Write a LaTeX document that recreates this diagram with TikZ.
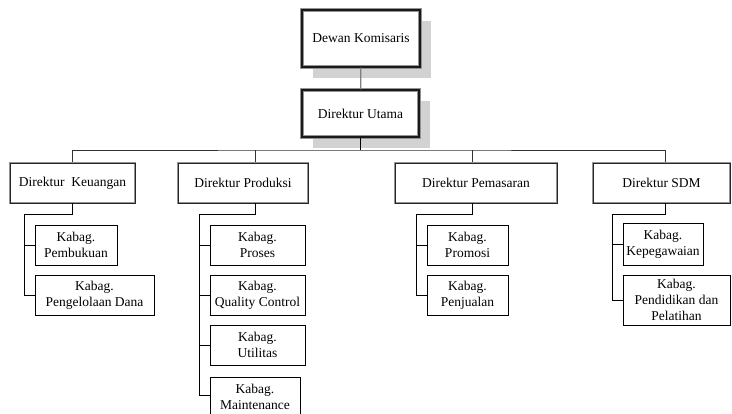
\documentclass[tikz,border=0pt]{standalone}
\usepackage{fontspec}
\setmainfont{Liberation Serif}
\usetikzlibrary{shadows}

\begin{document}
\begin{tikzpicture}[x=1pt,y=-1pt,
  every node/.style={font=\fontsize{13.5}{16}\selectfont, align=center, inner sep=0pt},
  topbox/.style={draw=gray!85, double=black!90, double distance=1.1pt, line width=1.1pt, fill=white,
    drop shadow={shadow xshift=11pt, shadow yshift=-11pt, fill=gray!35, opacity=1}},
  dirbox/.style={draw=gray!85, double=black!85, double distance=0.9pt, line width=1pt, fill=white, minimum height=40pt},
  unitbox/.style={draw, line width=0.8pt, fill=white, minimum height=40pt},
  link/.style={draw, line width=0.9pt}]
\useasboundingbox (0,0) rectangle (732,414);

% top of the chart
\node[topbox, minimum width=118pt, minimum height=57pt] (dewan) at (361,38.5) {Dewan Komisaris};
\node[topbox, minimum width=117pt, minimum height=47pt] (utama) at (360.5,113.5) {Direktur Utama};
\coordinate (bus) at (360.5,150);

% directors
\node[dirbox, minimum width=125pt] (keu) at (72.5,183) {Direktur~ Keuangan};
\node[dirbox, minimum width=130pt] (prod) at (243,183) {Direktur Produksi};
\node[dirbox, minimum width=162pt] (pem) at (476,183) {Direktur Pemasaran};
\node[dirbox, minimum width=137pt] (sdm) at (661.5,183) {Direktur SDM};

% units under Keuangan
\node[unitbox, minimum width=82pt] (pemb) at (76,245) {Kabag.\\Pembukuan};
\node[unitbox, minimum width=119pt] (dana) at (94.5,295) {Kabag.\\Pengelolaan Dana};

% units under Produksi
\node[unitbox, minimum width=95pt] (proses) at (257.5,245) {Kabag.\\Proses};
\node[unitbox, minimum width=95pt] (qc) at (257.5,295) {Kabag.\\Quality Control};
\node[unitbox, minimum width=95pt] (util) at (257.5,345) {Kabag.\\Utilitas};
\node[unitbox, minimum width=90pt] (maint) at (255,397) {Kabag.\\Maintenance};

% units under Pemasaran
\node[unitbox, minimum width=81pt] (promosi) at (467.5,245) {Kabag.\\Promosi};
\node[unitbox, minimum width=81pt] (jual) at (467.5,295) {Kabag.\\Penjualan};

% units under SDM
\node[unitbox, minimum width=80pt, minimum height=42pt] (pegawai) at (663,244) {Kabag.\\Kepegawaian};
\node[unitbox, minimum width=107pt, minimum height=50pt] (latih) at (676.5,300) {Kabag.\\Pendidikan dan\\Pelatihan};

% lines
\path[draw,gray,line width=1.2pt] (dewan) -- (utama);
\path[draw,line width=1.8pt] (utama) -- (bus);
\path[link,black!80] (keu.north) |- (bus) -| ([xshift=3.5pt]sdm.north);
\path[link,black!80] ([xshift=12pt]prod.north) -- ([xshift=12pt]prod.north |- bus);
\path[link,black!80] ([xshift=-4pt]pem.north) -- ([xshift=-4pt]pem.north |- bus);

\path[link] (keu.south) -- ++(0,11) -| ([xshift=-10pt]dana.west) -- (dana.west);
\path[link] ([xshift=-10pt]pemb.west) -- (pemb.west);

\path[link] ([xshift=12pt]prod.south) -- ++(0,11) -| ([xshift=-10pt]maint.west |- 0,395) -- (maint.west |- 0,395);
\path[link] ([xshift=-10pt]proses.west) -- (proses.west);
\path[link] ([xshift=-10pt]qc.west) -- (qc.west);
\path[link] ([xshift=-10pt]util.west) -- (util.west);

\path[link] ([xshift=-4pt]pem.south) -- ++(0,11) -| ([xshift=-10pt]jual.west) -- (jual.west);
\path[link] ([xshift=-10pt]promosi.west) -- (promosi.west);

\path[link] ([xshift=3.5pt]sdm.south) -- ++(0,11) -| ([xshift=-10pt]latih.west) -- (latih.west);
\path[link] ([xshift=-10pt]pegawai.west) -- (pegawai.west);
\end{tikzpicture}
\end{document}
